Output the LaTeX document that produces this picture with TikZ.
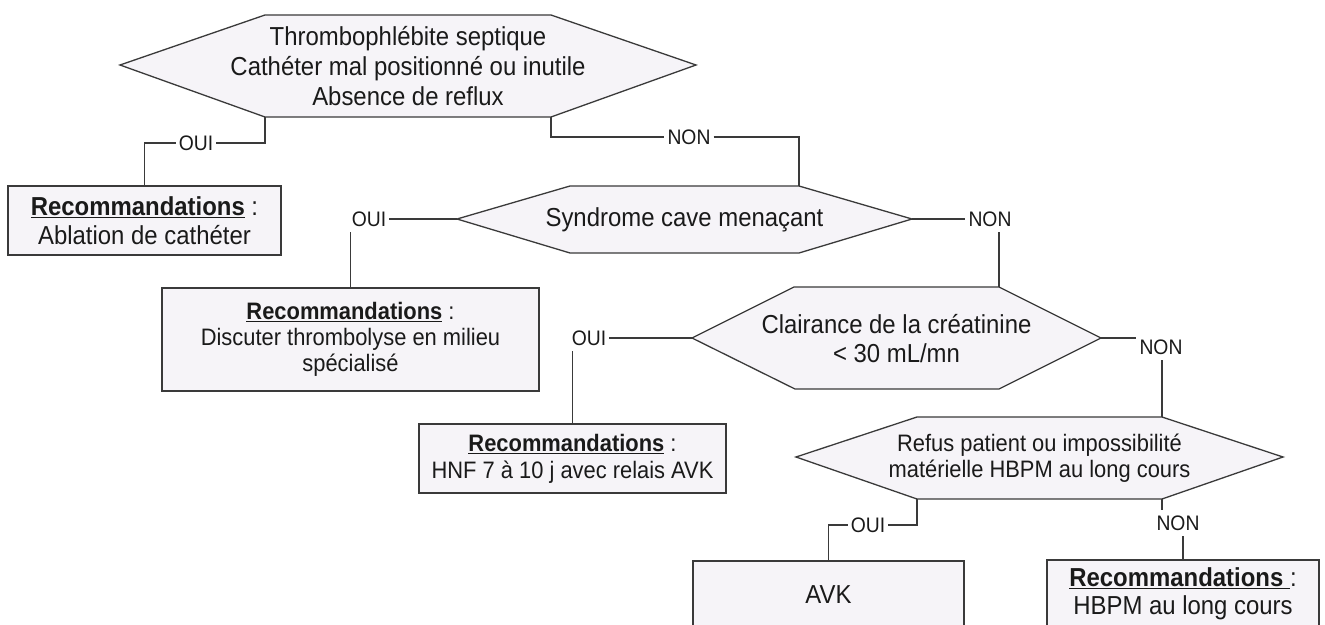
\documentclass[tikz,border=0pt]{standalone}
\usepackage{fontspec}
\setmainfont{Liberation Sans}[FakeStretch=0.92]
\definecolor{fillc}{HTML}{F6F4F8}
\definecolor{linec}{HTML}{3A3A3A}
\definecolor{txtc}{HTML}{1A1A1A}
\tikzset{
  hexa/.style={draw=linec, fill=fillc, line width=1.3pt, line join=miter},
  conn/.style={draw=linec, line width=1.3pt},
  lbl/.style={font=\fontsize{21}{22}\selectfont, inner xsep=3pt, inner ysep=5.5pt, text=txtc},
  bigtxt/.style={align=center, font=\fontsize{26}{30}\selectfont, inner sep=0pt, text=txtc},
  midtxt/.style={align=center, font=\fontsize{23.8}{26}\selectfont, inner sep=0pt, text=txtc},
  recbox/.style={draw=linec, fill=fillc, line width=1.3pt, inner sep=0pt, align=center, text=txtc},
}
\newcommand{\recom}{\underline{\textbf{Recommandations}}~:}
\begin{document}
\begin{tikzpicture}[x=1pt, y=-1pt]
\useasboundingbox (0,0) rectangle (1325,624);
\clip (0,0) rectangle (1325,624);
\fill[white] (0,0) rectangle (1325,624);

% Hexagon 1
\draw[hexa] (120,65) -- (265,15) -- (551,15) -- (696,65) -- (551,117) -- (265,117) -- cycle;
\coordinate (h1bl) at (265,117);
\coordinate (h1br) at (551,117);
\node[bigtxt] (h1) at (408,66) {Thrombophlébite septique\\Cathéter mal positionné ou inutile\\Absence de reflux};

% Box 1
\node[recbox, minimum width=273pt, minimum height=69pt, font=\fontsize{26}{29}\selectfont] (b1) at (144.5,220.5) {\recom\\Ablation de cathéter};

% Hexagon 2
\draw[hexa] (457,219) -- (570,186) -- (799,186) -- (912,219) -- (799,253) -- (570,253) -- cycle;
\coordinate (h2l) at (457,219);
\coordinate (h2r) at (912,219);
\coordinate (h2tr) at (799,186);
\node[bigtxt] (h2) at (684.5,219.5) {Syndrome cave menaçant};

% Box 2
\node[recbox, minimum width=377pt, minimum height=103pt, font=\fontsize{23.8}{26}\selectfont] (b2) at (350.5,339.5) {\recom\\Discuter thrombolyse en milieu\\spécialisé};

% Hexagon 3
\draw[hexa] (692,338) -- (794,287) -- (999,287) -- (1101,338) -- (999,389) -- (795,389) -- cycle;
\coordinate (h3l) at (692,338);
\coordinate (h3r) at (1101,338);
\coordinate (h3tr) at (999,287);
\node[bigtxt, font=\fontsize{26}{29}\selectfont] (h3) at (896.5,338.5) {Clairance de la créatinine\\< 30 mL/mn};

% Box 3
\node[recbox, minimum width=307pt, minimum height=69pt, font=\fontsize{23.8}{27}\selectfont] (b3) at (572.5,458.5) {\recom\\HNF 7 à 10 j avec relais AVK};

% Hexagon 4
\draw[hexa] (796,457) -- (917,417) -- (1162,417) -- (1283,457) -- (1162,499) -- (917,499) -- cycle;
\coordinate (h4bl) at (917,499);
\coordinate (h4br) at (1162,499);
\coordinate (h4tr) at (1162,417);
\node[midtxt] (h4) at (1039.5,458) {Refus patient ou impossibilité\\matérielle HBPM au long cours};

% Box 4 and 5
\node[recbox, minimum width=271pt, minimum height=67pt, font=\fontsize{26}{29}\selectfont] (b4) at (828.5,594.5) {AVK};
\node[recbox, minimum width=272pt, minimum height=68pt, font=\fontsize{26}{28}\selectfont] (b5) at (1183,594) {\underline{\textbf{Recommandations}~}:\\HBPM au long cours};

% Labels
\node[lbl] (o1) at (196,143) {OUI};
\node[lbl] (n1) at (689,137) {NON};
\node[lbl] (o2) at (369,219) {OUI};
\node[lbl] (n2) at (990,219) {NON};
\node[lbl] (o3) at (589,338) {OUI};
\node[lbl] (n3) at (1161,347) {NON};
\node[lbl] (o4) at (868,525) {OUI};
\node[lbl] (n4) at (1178,523) {NON};

% Connectors
\draw[conn] (h1bl) |- (o1.east);
\draw[conn] (o1.west) -| (b1.north);
\draw[conn] (h1br) |- (n1.west);
\draw[conn] (n1.east) -| (h2tr);

\draw[conn] (h2l) -- (o2.east);
\draw[conn] (o2.south -| b2.north) -- (b2.north);
\draw[conn] (h2r) -- (n2.west);
\draw[conn] (n2.south -| h3tr) -- (h3tr);

\draw[conn] (h3l) -- (o3.east |- h3l);
\draw[conn] (o3.south -| b3.north) -- (b3.north);
\draw[conn] (h3r) -- (h3r -| n3.west);
\draw[conn] (n3.south -| h4tr) -- (h4tr);

\draw[conn] (h4bl) |- (o4.east);
\draw[conn] (o4.west) -| (b4.north);
\draw[conn] (h4br) -- (h4br |- n4.north);
\draw[conn] (n4.south -| b5.north) -- (b5.north);
\end{tikzpicture}
\end{document}
